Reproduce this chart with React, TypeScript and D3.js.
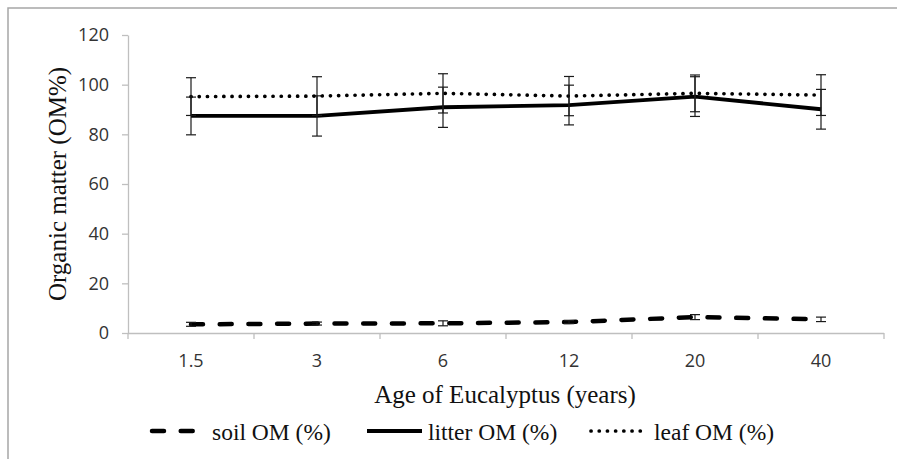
import React, { useEffect, useRef } from "react";
import * as d3 from "d3";

// chart data
const categories = ["1.5", "3", "6", "12", "20", "40"];
const soilOM = [3.5, 3.8, 3.9, 4.4, 6.4, 5.5];
const soilErr = [0.8, 0.6, 1.0, 0.6, 1.0, 0.9];
const litterOM = [87.4, 87.4, 90.9, 91.8, 95.2, 90.1];
const litterErr = [7.6, 8.1, 8.1, 8.0, 8.0, 8.0];
const leafOM = [95.2, 95.4, 96.5, 95.4, 96.5, 95.8];
const leafErr = [7.6, 7.8, 7.9, 7.9, 7.4, 8.2];
const yTicks = [0, 20, 40, 60, 80, 100, 120];

const serif = "'Liberation Serif', 'Times New Roman', serif";
const sans = "'Open Sans', 'Noto Sans', sans-serif";

export default function App() {
  const ref = useRef<SVGSVGElement>(null);

  useEffect(() => {
    const svg = d3.select(ref.current);
    svg.selectAll("*").remove();

    const series = [
      { name: "soil OM (%)", values: soilOM, errors: soilErr, dash: "12 16.7", width: 4.5, cap: "round", lx1: 152, lx2: 197, tx: 212 },
      { name: "litter OM (%)", values: litterOM, errors: litterErr, dash: null, width: 3.8, cap: "butt", lx1: 367, lx2: 422, tx: 428 },
      { name: "leaf OM (%)", values: leafOM, errors: leafErr, dash: "0.1 8.1", width: 3.7, cap: "round", lx1: 591, lx2: 642, tx: 654 },
    ];

    // outer frame
    svg
      .append("rect")
      .attr("x", 8)
      .attr("y", 8)
      .attr("width", 900)
      .attr("height", 470)
      .attr("fill", "none")
      .attr("stroke", "#a6a6a6")
      .attr("stroke-width", 1.5);

    const x = d3.scaleBand().domain(categories).range([128, 884]);
    const y = d3.scaleLinear().domain([0, 120]).range([333, 35]);
    const bw = x.bandwidth();
    const cx = (i: number) => (x(categories[i]) as number) + bw / 2;

    // y axis
    const yAxis = svg
      .append("g")
      .attr("transform", "translate(128,0)")
      .call(d3.axisLeft(y).tickValues(yTicks).tickSize(6).tickSizeOuter(0).tickPadding(13));
    yAxis.select(".domain").attr("stroke", "#bfbfbf").attr("stroke-width", 1.3);
    yAxis.selectAll(".tick line").attr("stroke", "#bfbfbf").attr("stroke-width", 1.3);
    yAxis
      .selectAll(".tick text")
      .attr("font-family", sans)
      .attr("font-size", 18)
      .attr("fill", "#333");

    // x axis (ticks sit on category boundaries)
    svg
      .append("line")
      .attr("x1", 128)
      .attr("x2", 884)
      .attr("y1", 333.5)
      .attr("y2", 333.5)
      .attr("stroke", "#bfbfbf")
      .attr("stroke-width", 1.3);

    const bounds = [...categories.map((c) => x(c) as number), 884];
    svg
      .selectAll(".xtick")
      .data(bounds)
      .join("line")
      .attr("class", "xtick")
      .attr("x1", (d) => d)
      .attr("x2", (d) => d)
      .attr("y1", 333)
      .attr("y2", 339)
      .attr("stroke", "#bfbfbf")
      .attr("stroke-width", 1.3);

    svg
      .selectAll(".xlabel")
      .data(categories)
      .join("text")
      .attr("class", "xlabel")
      .attr("x", (d, i) => cx(i))
      .attr("y", 367)
      .attr("text-anchor", "middle")
      .attr("font-family", sans)
      .attr("font-size", 18)
      .attr("fill", "#333")
      .text((d) => d);

    // axis titles
    svg
      .append("text")
      .attr("x", 505)
      .attr("y", 403)
      .attr("text-anchor", "middle")
      .attr("font-family", serif)
      .attr("font-size", 25)
      .attr("fill", "#111")
      .text("Age of Eucalyptus (years)");

    svg
      .append("text")
      .attr("transform", "translate(66,184) rotate(-90)")
      .attr("text-anchor", "middle")
      .attr("font-family", serif)
      .attr("font-size", 25)
      .attr("fill", "#111")
      .text("Organic matter (OM%)");

    // series lines with error bars
    const line = d3
      .line<number>()
      .x((d, i) => cx(i))
      .y((d) => y(d));

    series.forEach((s) => {
      svg
        .append("path")
        .attr("d", line(s.values))
        .attr("fill", "none")
        .attr("stroke", "#000")
        .attr("stroke-width", s.width)
        .attr("stroke-linecap", s.cap)
        .attr("stroke-dasharray", s.dash);

      const eb = svg.append("g").attr("stroke", "#1a1a1a").attr("stroke-width", 1.2);
      s.values.forEach((v, i) => {
        const top = y(v + s.errors[i]);
        const bot = y(v - s.errors[i]);
        eb.append("line").attr("x1", cx(i)).attr("x2", cx(i)).attr("y1", top).attr("y2", bot);
        eb.append("line").attr("x1", cx(i) - 5).attr("x2", cx(i) + 5).attr("y1", top).attr("y2", top);
        eb.append("line").attr("x1", cx(i) - 5).attr("x2", cx(i) + 5).attr("y1", bot).attr("y2", bot);
      });
    });

    // legend
    const legend = svg
      .selectAll(".legend-item")
      .data(series)
      .join("g")
      .attr("class", "legend-item");

    legend
      .append("line")
      .attr("x1", (d) => d.lx1)
      .attr("x2", (d) => d.lx2)
      .attr("y1", 431)
      .attr("y2", 431)
      .attr("stroke", "#000")
      .attr("stroke-width", (d) => d.width)
      .attr("stroke-linecap", (d) => d.cap)
      .attr("stroke-dasharray", (d) => d.dash);

    legend
      .append("text")
      .attr("x", (d) => d.tx)
      .attr("y", 440)
      .attr("font-family", serif)
      .attr("font-size", 23.5)
      .attr("fill", "#111")
      .text((d) => d.name);
  }, []);

  return (
    <svg
      ref={ref}
      width={897}
      height={459}
      style={{ position: "absolute", left: 0, top: 0, background: "#fff" }}
    />
  );
}
